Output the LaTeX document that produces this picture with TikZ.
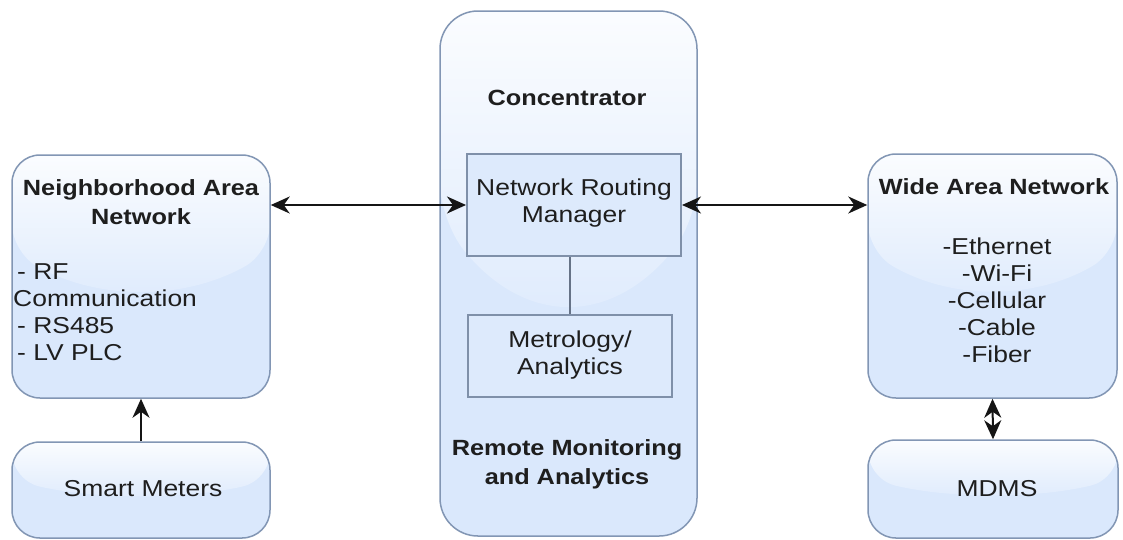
\documentclass[tikz,border=0pt]{standalone}
\usepackage{fontspec}
\setmainfont{Liberation Sans}[FakeStretch=1.15]
\usetikzlibrary{arrows.meta,calc}

\definecolor{boxfill}{HTML}{DAE8FC}
\definecolor{boxline}{HTML}{8296B4}
\definecolor{innerline}{HTML}{7F90A9}
\definecolor{inktext}{HTML}{1E1E1E}
\definecolor{ink}{HTML}{151515}

\tikzset{
  % glossy highlight on the upper part of a shape
  glass/.style={path picture={
    \path (path picture bounding box.north west) coordinate (gNW)
          (path picture bounding box.south east) coordinate (gSE);
    \shade[top color=white!88!boxfill, bottom color=white!12!boxfill]
      let \p1=(gNW), \p2=(gSE), \n1={\y2-\y1} in
      (\x1,\y1) -- (\x1,{\y1+0.4*\n1})
      .. controls ({\x1+(\x2-\x1)/3},{\y1+0.6*\n1}) and ({\x1+2*(\x2-\x1)/3},{\y1+0.6*\n1}) ..
      (\x2,{\y1+0.4*\n1}) -- (\x2,\y1) -- cycle;
  }},
  blockbox/.style={draw=boxline, line width=1.5pt, fill=boxfill, inner sep=0pt,
    rounded corners=28pt, glass},
  innerbox/.style={draw=innerline, line width=2pt, fill=boxfill!92!white, inner sep=0pt},
  txt/.style={text=inktext, inner sep=0pt, font=\fontsize{23}{27}\selectfont},
  ttl/.style={text=inktext, inner sep=0pt, font=\bfseries\fontsize{22}{29}\selectfont},
  tip/.style={Stealth[length=19pt,width=17pt,inset=6pt]},
  link/.style={draw=ink, line width=2pt},
  biarrow/.style={link, {Stealth[length=19pt,width=17pt,inset=6pt]}-{Stealth[length=19pt,width=17pt,inset=6pt]}},
  uparrow/.style={link, -{Stealth[length=19pt,width=17pt,inset=6pt]}},
}

\begin{document}
\begin{tikzpicture}[x=1pt,y=-1pt]
\useasboundingbox (0,0) rectangle (1123,539);
\fill[white] (0,0) rectangle (1123,539);

% outer blocks
\node[blockbox, minimum width=258pt, minimum height=243pt] (nan) at (141,276.5) {};
\node[blockbox, minimum width=258pt, minimum height=96pt] (smart) at (141,490) {};
\node[blockbox, rounded corners=38pt, minimum width=257pt, minimum height=525pt] (conc) at (568.5,273.5) {};
\node[blockbox, minimum width=249pt, minimum height=244pt] (wan) at (992.5,276) {};
\node[blockbox, minimum width=250pt, minimum height=98pt] (mdms) at (993,489) {};

% parts of the concentrator
\node[innerbox, minimum width=214pt, minimum height=102pt] (nrm) at (574,205) {};
\node[innerbox, minimum width=204pt, minimum height=82pt] (met) at (570,356) {};

% texts
\node[ttl, align=center] (nanT) at (141,202) {Neighborhood Area\\Network};
\node[txt, align=left, anchor=west] (nanL) at (13,312.5) {\hspace{4pt}- RF\\Communication\\\hspace{4pt}- RS485\\\hspace{4pt}- LV PLC};
\node[txt] (smartT) at (143,489) {Smart Meters};
\node[ttl] (concT) at (567,98) {Concentrator};
\node[txt, align=center] (nrmT) at (574,203) {Network Routing\\Manager};
\node[txt, align=center] (metT) at (570,355) {Metrology/\\Analytics};
\node[ttl, align=center] (remT) at (567,464) {Remote Monitoring\\and Analytics};
\node[ttl] (wanT) at (994,187) {Wide Area Network};
\node[txt, align=center] (wanL) at (997,300) {-Ethernet\\-Wi-Fi\\-Cellular\\-Cable\\-Fiber};
\node[txt] (mdmsT) at (997,489) {MDMS};

% connectors
\draw[biarrow] (nrm.west -| nan.east) -- (nrm.west);
\draw[biarrow] (nrm.east) -- (nrm.east -| wan.west);
\draw[link, draw=innerline!80!black] (met.north) -- (met.north |- nrm.south);
\draw[uparrow] (smart.north) -- (nan.south);
\draw[biarrow] (mdms.north) -- (wan.south);
\end{tikzpicture}
\end{document}
